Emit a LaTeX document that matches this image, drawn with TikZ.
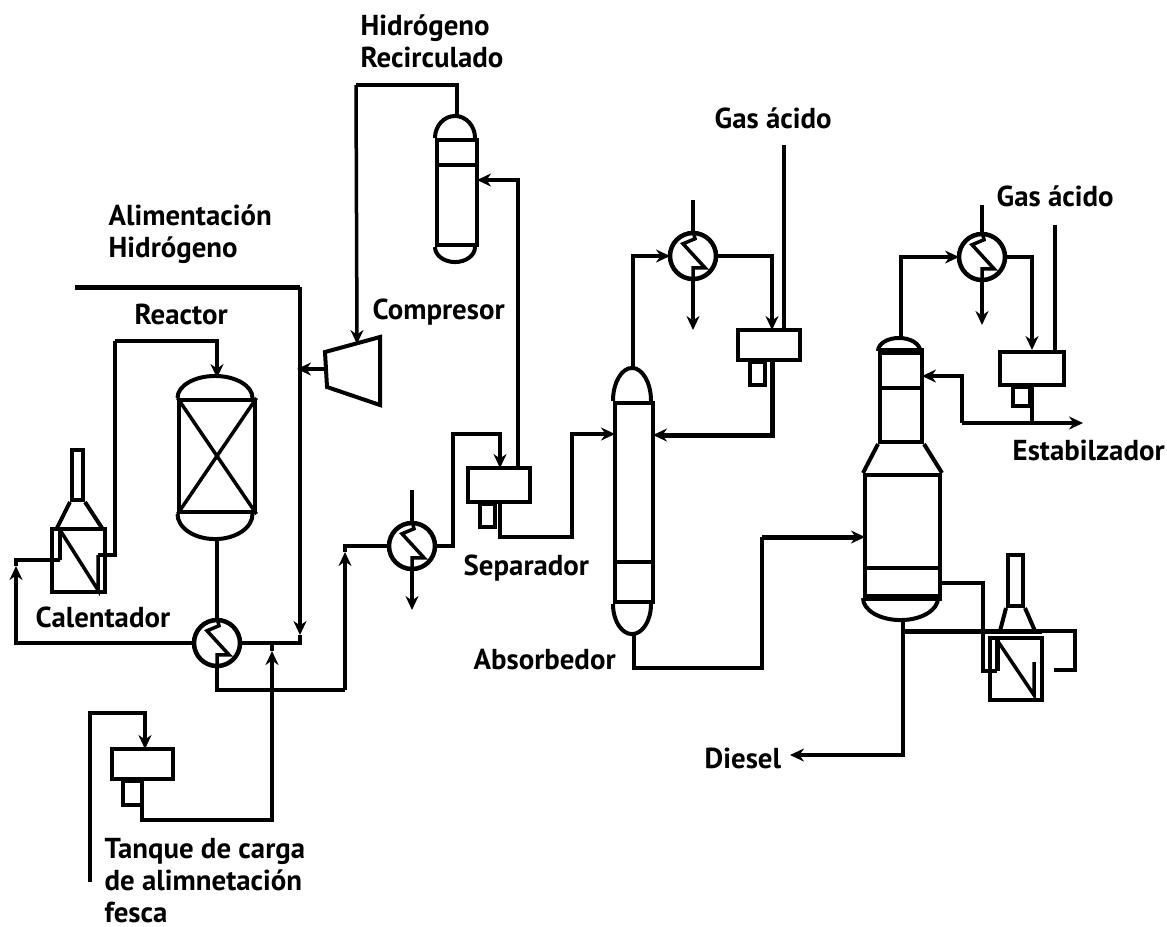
\documentclass[tikz,border=0pt]{standalone}
\usepackage{fontspec}
\setmainfont{PT Sans}
\usetikzlibrary{arrows.meta}
\tikzset{
  pipe/.style={line width=0.035cm, line join=miter},
  heavy/.style={line width=0.05cm},
  flow/.style={-{Stealth[length=0.14cm,width=0.13cm]}},
  vessel/.style={draw, rectangle, line width=0.04cm, inner sep=0pt},
  exch/.style={draw, circle, line width=0.045cm, inner sep=0pt, minimum size=0.46cm},
  lbl/.style={anchor=west, align=left, inner sep=0pt, font=\fontsize{8.2}{9.1}\selectfont\bfseries},
}
\begin{document}
\begin{tikzpicture}[x=0.01cm, y=-0.01cm]
  \useasboundingbox (0,0) rectangle (1167,926);

  % vessels
  \node[vessel, minimum width=0.40cm, minimum height=1.05cm] (drum) at (457,192.5) {};
  \node[vessel, minimum width=0.75cm, minimum height=1.12cm] (reactor) at (217,456) {};
  \node[vessel, minimum width=0.38cm, minimum height=1.99cm] (absorber) at (634,502.5) {};
  \node[vessel, minimum width=0.42cm, minimum height=0.89cm] (stabTop) at (901,397.5) {};
  \node[vessel, minimum width=0.75cm, minimum height=1.21cm] (stabBody) at (902.5,535.5) {};

  \draw[vessel] (drum.north west) arc[start angle=180, end angle=0, x radius=0.20cm, y radius=0.22cm];
  \draw[vessel] (drum.south west) arc[start angle=180, end angle=360, x radius=0.20cm, y radius=0.15cm];
  \draw[vessel] (reactor.north west) arc[start angle=180, end angle=0, x radius=0.375cm, y radius=0.22cm];
  \draw[vessel] (reactor.south west) arc[start angle=180, end angle=360, x radius=0.375cm, y radius=0.25cm];
  \draw[vessel] (absorber.north west) arc[start angle=180, end angle=0, x radius=0.19cm, y radius=0.33cm];
  \draw[vessel] (absorber.south west) arc[start angle=180, end angle=360, x radius=0.19cm, y radius=0.30cm];
  \draw[vessel] (stabTop.north west) arc[start angle=180, end angle=0, x radius=0.21cm, y radius=0.13cm];
  \draw[vessel] (stabBody.south west) arc[start angle=180, end angle=360, x radius=0.375cm, y radius=0.22cm];
  \draw[vessel] (stabTop.south west) -- (stabBody.north west);
  \draw[vessel] (stabTop.south east) -- (stabBody.north east);

  % inner trays
  \draw[vessel] (drum.west |- 0,165) -- (drum.east |- 0,165);
  \draw[pipe] (reactor.north west) -- (reactor.south east);
  \draw[pipe] (reactor.north east) -- (reactor.south west);
  \draw[pipe] (absorber.west |- 0,562) -- (absorber.east |- 0,562);
  \draw[vessel] (stabTop.west |- 0,388) -- (stabTop.east |- 0,388);
  \draw[vessel] (stabBody.west |- 0,568) -- (stabBody.east |- 0,568);
  \draw[heavy] (stabTop.north west) -- (stabTop.north east);
  \draw[heavy] (stabBody.south west) -- (stabBody.south east);

  % separators, legs
  \node[vessel, minimum width=0.62cm, minimum height=0.34cm] (sepA) at (499,485) {};
  \node[vessel, minimum width=0.15cm, minimum height=0.23cm, anchor=north] (legA) at (487,502) {};
  \node[vessel, minimum width=0.62cm, minimum height=0.30cm] (sepB) at (769,345) {};
  \node[vessel, minimum width=0.15cm, minimum height=0.23cm, anchor=north] (legB) at (757,360) {};
  \node[vessel, minimum width=0.64cm, minimum height=0.33cm] (sepC) at (1032,368.5) {};
  \node[vessel, minimum width=0.17cm, minimum height=0.19cm, anchor=north] (legC) at (1021,385) {};
  \node[vessel, minimum width=0.61cm, minimum height=0.30cm] (tank) at (142.5,764) {};
  \node[vessel, minimum width=0.19cm, minimum height=0.24cm, anchor=north] (legT) at (132.5,779) {};

  % exchangers
  \node[exch] (exHot) at (217,643) {};
  \node[exch] (exCool) at (412,546) {};
  \node[exch] (exAbs) at (693,256) {};
  \node[exch] (exStab) at (982,257) {};
  \foreach \ex in {exHot, exCool, exAbs, exStab} {
    \draw[pipe] (\ex.north) -- ++(2,8) -- ++(-12,5) -- ++(22,24) -- ++(-12,0) -- (\ex.south);
  }

  % heaters
  \node[vessel, minimum width=0.52cm, minimum height=0.63cm] (heatA) at (78.5,560) {};
  \node[vessel, minimum width=0.11cm, minimum height=0.50cm, anchor=south] (stackA) at (77.5,502) {};
  \draw[vessel] (57,528) -- (stackA.south west);
  \draw[vessel] (102,528) -- (stackA.south east);
  \node[vessel, minimum width=0.52cm, minimum height=0.62cm] (heatB) at (1016,669) {};
  \node[vessel, minimum width=0.15cm, minimum height=0.51cm, anchor=south] (stackB) at (1015.5,608) {};
  \draw[vessel] (1000,631) -- (stackB.south west);
  \draw[vessel] (1035,631) -- (stackB.south east);

  % compressor
  \coordinate (cmpA) at (325,352);
  \coordinate (cmpB) at (380,337);
  \coordinate (cmpC) at (380,405);
  \coordinate (cmpD) at (327,387);
  \coordinate (cmpIn) at (357,344);
  \coordinate (cmpOut) at (326,369);
  \draw[vessel] (cmpA) -- (cmpB) -- (cmpC) -- (cmpD) -- cycle;

  % free ends
  \coordinate (h2In) at (75,287);
  \coordinate (h2Corner) at (300,287);
  \coordinate (h2Tip) at (300,635);
  \coordinate (h2Low) at (300,643);
  \coordinate (h2Join) at (297,369);
  \coordinate (retA) at (16,643);
  \coordinate (retTip) at (16,566);
  \coordinate (retB) at (16,560);
  \coordinate (heatIn) at (60,560);
  \coordinate (heatOut) at (98,555);
  \coordinate (riseTop) at (115,341);
  \coordinate (reactorTop) at (217,378);
  \coordinate (hotLow) at (217,690);
  \coordinate (hotCorner) at (345,690);
  \coordinate (coolTip) at (345,552);
  \coordinate (coolIn) at (345,546);
  \coordinate (feedTop) at (272,651);
  \coordinate (feedJoin) at (272,643);
  \coordinate (tankIn) at (90,882);
  \coordinate (tankOut) at (142,779);
  \coordinate (coolTop) at (412,490);
  \coordinate (coolDown) at (412,610);
  \coordinate (sepIn) at (453,434);
  \coordinate (sepInTip) at (500,468);
  \coordinate (sepOut) at (500,502);
  \coordinate (absIn) at (572,537);
  \coordinate (absTip) at (615,434);
  \coordinate (sepUp) at (518,468);
  \coordinate (drumIn) at (477,180);
  \coordinate (absTopUp) at (633,370);
  \coordinate (absExIn) at (670,256);
  \coordinate (absExTop) at (693,200);
  \coordinate (absExDown) at (693,330);
  \coordinate (gasA) at (784,145);
  \coordinate (backA) at (772,435);
  \coordinate (backTip) at (653,435);
  \coordinate (absBottom) at (634,632);
  \coordinate (stabFeed) at (762,668);
  \coordinate (stabTip) at (865,537);
  \coordinate (stabUp) at (901,340);
  \coordinate (stabExIn) at (959,257);
  \coordinate (stabExTop) at (982,205);
  \coordinate (stabExDown) at (982,325);
  \coordinate (gasB) at (1055,225);
  \coordinate (splitC) at (1032,423);
  \coordinate (outC) at (1083,423);
  \coordinate (refluxC) at (962,423);
  \coordinate (refluxTip) at (922,376);
  \coordinate (sideOut) at (940,583);
  \coordinate (sideIn) at (997,671);
  \coordinate (baseOut) at (903,631);
  \coordinate (loopR) at (1075,631);
  \coordinate (loopEnd) at (1054,670);
  \coordinate (dieselTip) at (790,755);
  \coordinate (dieselCorner) at (903,755);

  % piping, left section
  \draw[pipe, heavy] (h2In) -- (h2Corner);
  \draw[pipe, flow] (h2Corner) -- (h2Tip);
  \draw[pipe] (h2Tip) -- (h2Low) -- (exHot.east);
  \draw[pipe, flow] (cmpOut) -- (h2Join);
  \draw[pipe, flow] (exHot.west) -- (retA) -- (retTip);
  \draw[pipe] (retTip) -- (retB) -- (heatIn);
  \draw[pipe] (heatIn) -- (60,530) -- (98,590) -- (heatOut);
  \draw[pipe] (heatOut) -- (riseTop |- heatOut) -- (riseTop);
  \draw[pipe, flow] (riseTop) -| (reactorTop);
  \draw[pipe] (217,537) -- (exHot.north);
  \draw[pipe] (exHot.south) -- (hotLow) -- (hotCorner);
  \draw[pipe, flow] (hotCorner) -- (coolTip);
  \draw[pipe] (coolTip) -- (coolIn) -- (exCool.west);
  \draw[pipe, flow] (tankOut) |- (272,820) -- (feedTop);
  \draw[pipe] (feedTop) -- (feedJoin);
  \draw[pipe, flow] (tankIn) |- (145,713) -- (145,749);

  % piping, separator and recycle
  \draw[pipe] (coolTop) -- (exCool.north);
  \draw[pipe, flow] (exCool.south) -- (coolDown);
  \draw[pipe, flow] (exCool.east) -| (sepIn) -| (sepInTip);
  \draw[pipe, flow] (sepOut) |- (absIn) |- (absTip);
  \draw[pipe, flow] (sepUp) |- (drumIn);
  \draw[pipe] (457,118) -- (457,85) -| (356,85);
  \draw[pipe, flow] (356,85) -- (cmpIn);

  % piping, absorber
  \draw[pipe, flow] (absTopUp) |- (absExIn);
  \draw[pipe] (absExIn) -- (exAbs.west);
  \draw[pipe] (absExTop) -- (exAbs.north);
  \draw[pipe, flow] (exAbs.south) -- (absExDown);
  \draw[pipe, flow] (exAbs.east) -| (772,330);
  \draw[pipe] (gasA) -- (gasA |- sepB.north);
  \draw[pipe, heavy, flow] (sepB.south -| backA) -- (backA) -- (backTip);
  \draw[pipe] (absBottom) |- (stabFeed) -- (stabFeed |- stabTip);
  \draw[pipe, heavy, flow] (stabFeed |- stabTip) -- (stabTip);

  % piping, stabilizer
  \draw[pipe, flow] (stabUp) |- (stabExIn);
  \draw[pipe] (stabExIn) -- (exStab.west);
  \draw[pipe] (stabExTop) -- (exStab.north);
  \draw[pipe, flow] (exStab.south) -- (stabExDown);
  \draw[pipe, flow] (exStab.east) -| (sepC.north);
  \draw[pipe] (gasB) -- (gasB |- sepC.north);
  \draw[pipe] (sepC.south) -- (splitC);
  \draw[pipe, flow] (refluxC) -- (outC);
  \draw[pipe, flow] (refluxC) |- (refluxTip);
  \draw[pipe] (sideOut) -| (983,671) -- (sideIn);
  \draw[pipe, heavy] (baseOut) -- (1042,631);
  \draw[pipe] (1042,631) -| (loopR |- loopEnd) -- (loopEnd);
  \draw[pipe, flow] (903,618) |- (dieselCorner) -- (dieselTip);
  \draw[heavy] (sideIn) -- (997,640);
  \draw[pipe] (997,640) -- (1034,695) -- (1034,662);

  % labels
  \node[lbl] (lblRecycle) at (360,41) {Hidrógeno\\Recirculado};
  \node[lbl] (lblGasA) at (714,118) {Gas ácido};
  \node[lbl] (lblGasB) at (996,196) {Gas ácido};
  \node[lbl] (lblFeed) at (108,234) {Alimentación\\Hidrógeno};
  \node[lbl] (lblReactor) at (134,314) {Reactor};
  \node[lbl] (lblCompresor) at (372,312) {Compresor};
  \node[lbl] (lblSeparador) at (463,568) {Separador};
  \node[lbl] (lblAbsorbedor) at (473,660) {Absorbedor};
  \node[lbl] (lblCalentador) at (35,617) {Calentador};
  \node[lbl] (lblEstab) at (1012,450) {Estabilzador};
  \node[lbl] (lblDiesel) at (704,758) {Diesel};
  \node[lbl] (lblTank) at (104,881) {Tanque de carga\\de alimnetación\\fesca};
\end{tikzpicture}
\end{document}
